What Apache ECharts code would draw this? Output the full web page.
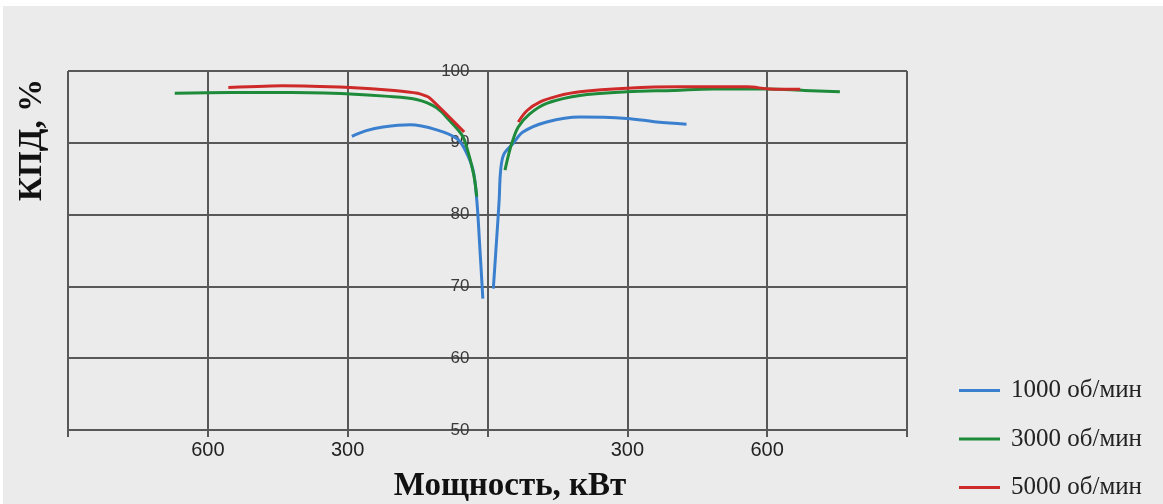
<!DOCTYPE html>
<html><head><meta charset="utf-8">
<script src="https://cdn.jsdelivr.net/npm/echarts@6/dist/echarts.min.js"></script>
<style>
html,body{margin:0;padding:0;background:#fff;}
#bg{position:absolute;left:3px;top:6px;width:1160px;height:498px;background:#ebebeb;}
#chart{position:absolute;left:0;top:0;width:1163px;height:504px;}
</style></head>
<body><div id="bg"></div><div id="chart"></div>
<script>
// ---- data ----
const seriesNames = ['1000 об/мин', '3000 об/мин', '5000 об/мин'];
const seriesColors = ['#3a80cf', '#1e8b3a', '#cf2a2a'];
const xAxisTitle = 'Мощность, кВт';
const yAxisTitle = 'КПД, %';

// left branch (negative power = shown as absolute values) and right branch
const p1000Left  = [-291, -260, -224, -166, -109, -66, -48, -31, -23, -17, -10];
const e1000Left  = [90.9, 91.7, 92.2, 92.5, 91.8, 90.6, 89.0, 86.2, 82.0, 76.0, 68.3];
const p1000Right = [12.5, 19, 25, 28, 35, 55, 76, 127, 198, 299, 363, 427];
const e1000Right = [69.7, 76.0, 82.0, 86.0, 88.4, 89.9, 91.5, 92.9, 93.6, 93.4, 92.9, 92.6];

const p3000Left  = [-671, -550, -420, -295, -220, -150, -110, -80, -55, -45, -30, -23];
const e3000Left  = [96.9, 97.0, 97.0, 96.8, 96.5, 96.0, 94.9, 93.0, 91.1, 89.5, 85.7, 82.5];
const p3000Right = [37.5, 45, 52, 66, 90, 127, 198, 299, 400, 484, 599, 680, 756];
const e3000Right = [86.2, 88.3, 89.9, 92.2, 94.0, 95.5, 96.6, 97.1, 97.3, 97.5, 97.5, 97.3, 97.1];

const p5000Left  = [-556, -440, -295, -200, -150, -125, -50];
const e5000Left  = [97.7, 97.95, 97.7, 97.3, 96.9, 96.3, 91.5];
const p5000Right = [66, 85, 113, 150, 198, 299, 413, 556, 606, 671];
const e5000Right = [92.9, 94.5, 95.7, 96.5, 97.1, 97.6, 97.8, 97.8, 97.5, 97.45];

const xMin = -900, xMax = 900, xStep = 300;
const yMin = 50, yMax = 100, yStep = 10;

// ---- build ----
const zip = (xs, ys) => xs.map((x, i) => [x, ys[i]]);
const branches = [
  [0, p1000Left, e1000Left, 0.35], [0, p1000Right, e1000Right, 0.35],
  [1, p3000Left, e3000Left, 0.35], [1, p3000Right, e3000Right, 0.35],
  [2, p5000Left, e5000Left, 0.15], [2, p5000Right, e5000Right, 0.35]
];
const gridColor = '#585858';
const series = branches.map(([k, xs, ys, sm]) => ({
  name: seriesNames[k],
  type: 'line',
  data: zip(xs, ys),
  showSymbol: false,
  smooth: sm,
  lineStyle: { color: seriesColors[k], width: 3 },
  itemStyle: { color: seriesColors[k] },
  z: 3 + k
}));

const gridLeft = 68, gridRight = 256;
const chartW = 1163;
const zeroOffset = -((chartW - gridLeft - gridRight) / 2);

const chart = echarts.init(document.getElementById('chart'));
chart.setOption({
  backgroundColor: 'transparent',
  animation: false,
  grid: { left: gridLeft, right: gridRight, top: 71, bottom: 74, containLabel: false },
  xAxis: {
    type: 'value', min: xMin, max: xMax, interval: xStep,
    axisLine: { show: true, onZero: false, lineStyle: { color: gridColor, width: 2 } },
    axisTick: { show: true, length: 7, lineStyle: { color: gridColor, width: 2 } },
    splitLine: { show: true, lineStyle: { color: gridColor, width: 2 } },
    axisLabel: {
      margin: 10, color: '#222', fontSize: 20,
      fontFamily: '"Liberation Sans Narrow", "Liberation Sans", sans-serif',
      formatter: v => (v === 0 || Math.abs(v) === xMax) ? '' : String(Math.abs(v))
    }
  },
  yAxis: {
    type: 'value', min: yMin, max: yMax, interval: yStep,
    position: 'left', offset: zeroOffset,
    axisLine: { show: true, onZero: false, lineStyle: { color: gridColor, width: 2 } },
    axisTick: { show: false },
    splitLine: { show: true, lineStyle: { color: gridColor, width: 2 } },
    axisLabel: { margin: 18, color: '#3a3a3a', fontSize: 17, fontFamily: '"Liberation Sans", Arial, sans-serif' }
  },
  legend: {
    orient: 'vertical', left: 959, top: 378, padding: 0,
    itemWidth: 41, itemHeight: 3, itemGap: 23.5, icon: 'rect',
    data: seriesNames,
    textStyle: { fontFamily: '"Liberation Serif", "Times New Roman", serif', fontSize: 25, color: '#222', lineHeight: 25, padding: [0, 0, 0, 6] }
  },
  graphic: [
    { type: 'text', x: 510, y: 486,
      style: { text: xAxisTitle, font: 'bold 33px "Liberation Serif", "Times New Roman", serif', fill: '#111', align: 'center', verticalAlign: 'middle' } },
    { type: 'text', x: 32, y: 140, rotation: Math.PI / 2,
      style: { text: yAxisTitle, font: 'bold 33px "Liberation Serif", "Times New Roman", serif', fill: '#111', align: 'center', verticalAlign: 'middle' } }
  ],
  series: series
});
</script>
</body></html>
